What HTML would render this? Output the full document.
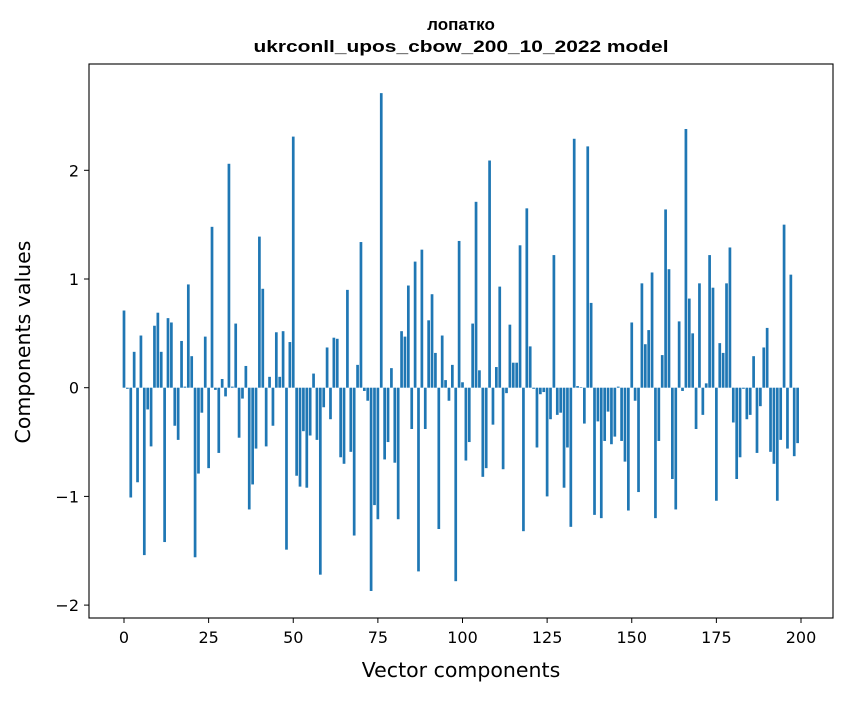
<!DOCTYPE html>
<html><head><meta charset="utf-8"><style>
body{margin:0;background:#fff;font-family:"Liberation Sans","DejaVu Sans",sans-serif;}
svg text{font-family:"DejaVu Sans","Liberation Sans",sans-serif;fill:#000;}
svg text.ttl{font-family:"Liberation Sans","DejaVu Sans",sans-serif;}
</style></head><body>
<svg id="chart" width="847" height="696" xmlns="http://www.w3.org/2000/svg">
<rect x="0" y="0" width="847" height="696" fill="#fff"/>
<text class="ttl" x="461" y="30" text-anchor="middle" font-size="17" font-weight="bold">лопатко</text>
<text class="ttl" x="461" y="52" text-anchor="middle" font-size="17" font-weight="bold" textLength="415" lengthAdjust="spacingAndGlyphs">ukrconll_upos_cbow_200_10_2022 model</text>
<g id="bars"></g>
<rect x="89" y="64" width="744" height="554" fill="none" stroke="#000" stroke-width="1.1"/>
<g id="xaxis"></g>
<g id="yaxis"></g>
<text x="461" y="677" text-anchor="middle" font-size="20.5">Vector components</text>
<text transform="translate(30,342) rotate(-90)" text-anchor="middle" font-size="20.5">Components values</text>
</svg>
<script>
const values = [0.71,-0.01,-1.01,0.33,-0.87,0.48,-1.54,-0.2,-0.54,0.57,
0.69,0.33,-1.42,0.64,0.6,-0.35,-0.48,0.43,0.01,0.95,
0.29,-1.56,-0.79,-0.23,0.47,-0.74,1.48,-0.02,-0.6,0.08,
-0.08,2.06,0.01,0.59,-0.46,-0.1,0.2,-1.12,-0.89,-0.56,
1.39,0.91,-0.54,0.1,-0.35,0.51,0.1,0.52,-1.49,0.42,
2.31,-0.81,-0.91,-0.4,-0.92,-0.44,0.13,-0.48,-1.72,-0.18,
0.37,-0.29,0.46,0.45,-0.64,-0.7,0.9,-0.59,-1.36,0.21,
1.34,-0.03,-0.12,-1.87,-1.08,-1.21,2.71,-0.66,-0.5,0.18,
-0.69,-1.21,0.52,0.47,0.94,-0.38,1.16,-1.69,1.27,-0.38,
0.62,0.86,0.32,-1.3,0.48,0.07,-0.12,0.21,-1.78,1.35,
0.05,-0.67,-0.5,0.59,1.71,0.16,-0.82,-0.74,2.09,-0.34,
0.19,0.93,-0.75,-0.05,0.58,0.23,0.23,1.31,-1.32,1.65,
0.38,-0.01,-0.55,-0.06,-0.04,-1.0,-0.29,1.22,-0.25,-0.23,
-0.92,-0.55,-1.28,2.29,0.015,0.005,-0.33,2.22,0.78,-1.17,
-0.31,-1.2,-0.49,-0.22,-0.52,-0.45,0.01,-0.49,-0.68,-1.13,
0.6,-0.12,-0.96,0.96,0.4,0.53,1.06,-1.2,-0.49,0.3,
1.64,1.09,-0.84,-1.12,0.61,-0.03,2.38,0.82,0.5,-0.38,
0.96,-0.25,0.04,1.22,0.92,-1.04,0.41,0.32,0.96,1.29,
-0.32,-0.84,-0.64,-0.01,-0.29,-0.25,0.29,-0.6,-0.17,0.37,
0.55,-0.59,-0.7,-1.04,-0.48,1.5,-0.56,1.04,-0.63,-0.51];
const xTicks = [0,25,50,75,100,125,150,175,200];
const yTicks = [-2,-1,0,1,2];
const yTickLabels = ["\u22122","\u22121","0","1","2"];

const NS="http://www.w3.org/2000/svg";
function xScale(v){return 124 + v*3.385;}
function yScale(v){return 387.7 - v*108.7;}
const barsG=document.getElementById('bars');
values.forEach((v,i)=>{
  const r=document.createElementNS(NS,'rect');
  
  
  const x0=xScale(i-0.4), x1=xScale(i+0.4);
  const y0=yScale(Math.max(v,0)), y1=yScale(Math.min(v,0));
  r.setAttribute('x',x0);r.setAttribute('width',x1-x0);
  r.setAttribute('y',y0);r.setAttribute('height',Math.max(y1-y0,0.3));
  r.setAttribute('fill','#1f77b4');
  barsG.appendChild(r);
});
const xa=document.getElementById('xaxis');
xTicks.forEach(t=>{
  const x=xScale(t);
  const l=document.createElementNS(NS,'line');
  
  
  l.setAttribute('x1',x);l.setAttribute('x2',x);l.setAttribute('y1',618);l.setAttribute('y2',623);
  l.setAttribute('stroke','#000');
  xa.appendChild(l);
  const tx=document.createElementNS(NS,'text');
  
  
  tx.setAttribute('x',x);tx.setAttribute('y',643);tx.setAttribute('text-anchor','middle');tx.setAttribute('font-size','16');
  tx.textContent=String(t);
  xa.appendChild(tx);
});
const ya=document.getElementById('yaxis');
yTicks.forEach((t,k)=>{
  const y=yScale(t);
  const l=document.createElementNS(NS,'line');
  
  
  l.setAttribute('x1',84);l.setAttribute('x2',89);l.setAttribute('y1',y);l.setAttribute('y2',y);
  l.setAttribute('stroke','#000');
  ya.appendChild(l);
  const tx=document.createElementNS(NS,'text');
  
  
  tx.setAttribute('x',79);tx.setAttribute('y',y+6);tx.setAttribute('text-anchor','end');tx.setAttribute('font-size','16');
  tx.textContent=yTickLabels[k];
  ya.appendChild(tx);
});
</script>
</body></html>
